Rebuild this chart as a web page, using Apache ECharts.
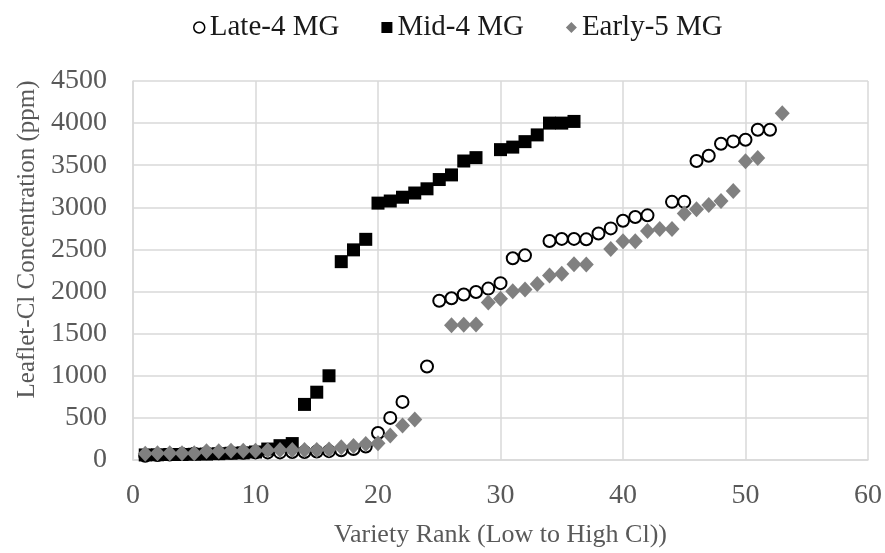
<!DOCTYPE html>
<html>
<head>
<meta charset="utf-8">
<script src="https://cdn.jsdelivr.net/npm/echarts@6/dist/echarts.min.js"></script>
<style>html,body{margin:0;padding:0;background:#fff;}#c{width:885px;height:553px;}</style>
</head>
<body>
<div id="c"></div>
<script>
// Variety rank (x) and leaflet Cl concentration (ppm) for each maturity group
var lateRank = [1,2,3,4,5,6,7,8,9,10,11,12,13,14,15,16,17,18,19,20,21,22,24,25,26,27,28,29,30,31,32,34,35,36,37,38,39,40,41,42,44,45,46,47,48,49,50,51,52];
var lateCl   = [50,60,65,70,75,80,80,85,85,90,90,90,95,95,100,105,115,130,160,320,500,690,1110,1890,1920,1965,1995,2035,2100,2395,2430,2600,2625,2625,2620,2690,2750,2840,2885,2905,3065,3065,3550,3612,3755,3783,3803,3921,3921];

var midRank = [1,2,3,4,5,6,7,8,9,10,11,12,13,14,15,16,17,18,19,20,21,22,23,24,25,26,27,28,30,31,32,33,34,35,36];
var midCl   = [60,62,65,65,68,70,75,80,85,95,130,170,195,660,805,1000,2355,2495,2620,3050,3075,3120,3170,3220,3330,3385,3550,3590,3685,3715,3780,3860,4000,4000,4020];

var earlyRank = [1,2,3,4,5,6,7,8,9,10,11,12,13,14,15,16,17,18,19,20,21,22,23,26,27,28,29,30,31,32,33,34,35,36,37,39,40,41,42,43,44,45,46,47,48,49,50,51,53];
var earlyCl   = [75,80,80,80,80,105,105,110,110,110,116,118,120,120,120,125,150,165,190,200,290,410,480,1600,1605,1610,1870,1915,2005,2025,2090,2190,2210,2325,2320,2505,2597,2597,2720,2742,2742,2927,2978,3028,3075,3193,3547,3587,4118];

var seriesNames = ['Late-4 MG', 'Mid-4 MG', 'Early-5 MG'];
var xTicks = [0, 10, 20, 30, 40, 50, 60];
var yTicks = [0, 500, 1000, 1500, 2000, 2500, 3000, 3500, 4000, 4500];

function pairs(xs, ys) { return xs.map(function (x, i) { return [x, ys[i]]; }); }

var FONT = '"Liberation Serif", "Times New Roman", serif';
var chart = echarts.init(document.getElementById('c'), null, { renderer: 'canvas' });
chart.setOption({
  animation: false,
  backgroundColor: '#ffffff',
  textStyle: { fontFamily: FONT },
  legend: {
    top: 8,
    left: 188,
    itemGap: 42,
    itemWidth: 11,
    itemHeight: 11,
    textStyle: { fontFamily: FONT, fontSize: 29, color: '#1a1a1a' },
    data: [
      { name: seriesNames[0], icon: 'circle', itemStyle: { color: '#ffffff', borderColor: '#000000', borderWidth: 1.5 } },
      { name: seriesNames[1], icon: 'rect' },
      { name: seriesNames[2], icon: 'diamond' }
    ]
  },
  grid: { left: 133, right: 16, top: 81, bottom: 92, containLabel: false },
  xAxis: {
    type: 'value',
    min: xTicks[0], max: xTicks[xTicks.length - 1], interval: 10,
    name: 'Variety Rank (Low to High Cl))',
    nameLocation: 'middle', nameGap: 62,
    nameTextStyle: { fontFamily: FONT, fontSize: 26, color: '#595959' },
    axisLine: { show: true, lineStyle: { color: '#d9d9d9', width: 1.5 } },
    axisTick: { show: false },
    axisLabel: { fontFamily: FONT, fontSize: 28, color: '#595959', margin: 22 },
    splitLine: { show: true, lineStyle: { color: '#d9d9d9', width: 1.5 } }
  },
  yAxis: {
    type: 'value',
    min: yTicks[0], max: yTicks[yTicks.length - 1], interval: 500,
    name: 'Leaflet-Cl Concentration (ppm)',
    nameLocation: 'middle', nameGap: 84, nameRotate: 90,
    nameTextStyle: { fontFamily: FONT, fontSize: 25, color: '#595959', padding: [0, 0, 0, 62] },
    axisLine: { show: true, lineStyle: { color: '#d9d9d9', width: 1.5 } },
    axisTick: { show: false },
    axisLabel: { fontFamily: FONT, fontSize: 28, color: '#595959', margin: 26,
                 formatter: function (v) { return String(v); } },
    splitLine: { show: true, lineStyle: { color: '#d9d9d9', width: 1.5 } }
  },
  series: [
    {
      name: seriesNames[0], type: 'scatter', z: 2,
      symbol: 'circle', symbolSize: 12,
      itemStyle: { color: '#ffffff', borderColor: '#000000', borderWidth: 2, opacity: 1 },
      data: pairs(lateRank, lateCl)
    },
    {
      name: seriesNames[1], type: 'scatter', z: 3,
      symbol: 'rect', symbolSize: 13,
      itemStyle: { color: '#000000', opacity: 1 },
      data: pairs(midRank, midCl)
    },
    {
      name: seriesNames[2], type: 'scatter', z: 4,
      symbol: 'diamond', symbolSize: [15, 16],
      itemStyle: { color: '#808080', opacity: 1 },
      data: pairs(earlyRank, earlyCl)
    }
  ]
});
</script>
</body>
</html>
